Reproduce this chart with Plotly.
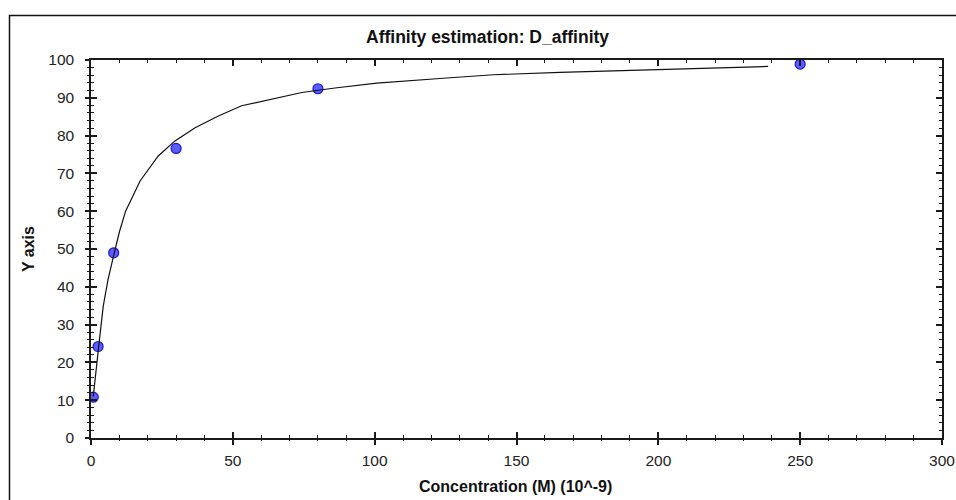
import plotly.graph_objects as go

# Measured data points
conc = [0.8, 2.5, 8, 30, 80, 250]
resp = [10.8, 24.2, 49.0, 76.6, 92.4, 98.9]

# Fitted curve
fit_x = [0.8, 1.8, 2.9, 4.3, 6.0, 8.0, 10.0, 12.2, 17.3, 23.7, 29.6, 36.7, 44.9,
         53.1, 63.7, 74.3, 86.0, 100.7, 123.0, 141.8, 165.3, 187.6, 210.0, 238.7]
fit_y = [11.0, 18.9, 25.5, 34.8, 41.9, 48.3, 54.5, 60.0, 68.0, 74.6, 78.6, 82.1, 85.2,
         87.9, 89.7, 91.4, 92.6, 93.9, 95.1, 96.1, 96.7, 97.2, 97.8, 98.3]

x_ticks = [0, 50, 100, 150, 200, 250, 300]
y_ticks = [0, 10, 20, 30, 40, 50, 60, 70, 80, 90, 100]

title = "Affinity estimation: D_affinity"
x_title = "Concentration (M) (10^-9)"
y_title = "Y axis"

FONT = "Liberation Sans, Arial, sans-serif"
AX = "#1a1a1a"
TICKFONT = dict(family=FONT, size=15.5, color="#222")

fig = go.Figure()
fig.add_trace(go.Scatter(x=fit_x, y=fit_y, mode="lines",
                         line=dict(color="#111111", width=1.2),
                         xaxis="x2", yaxis="y2", hoverinfo="skip", showlegend=False))
fig.add_trace(go.Scatter(x=conc, y=resp, mode="markers",
                         marker=dict(size=10, color="#5c5cff",
                                     line=dict(color="#1a1ad8", width=1.2)),
                         showlegend=False))

common = dict(showgrid=False, zeroline=False, automargin=False)
W, H = 956, 500
fig.update_layout(
    width=W, height=H,
    margin=dict(l=91, r=14, t=60, b=62),
    paper_bgcolor="white", plot_bgcolor="white",
    font=dict(family=FONT, size=13, color="#222"),
    xaxis=dict(range=[0, 300], tickvals=x_ticks, ticktext=[str(v) for v in x_ticks],
               ticks="inside", ticklen=6, tickwidth=1.5, tickcolor=AX,
               showline=True, linecolor=AX, linewidth=1.5, mirror="ticks",
               minor=dict(ticks="inside", ticklen=3, dtick=10, tickwidth=1, tickcolor=AX),
               ticklabelstandoff=8, tickfont=TICKFONT, **common),
    yaxis=dict(range=[0, 100], tickvals=y_ticks, ticktext=[str(v) for v in y_ticks],
               ticks="inside", ticklen=6, tickwidth=1.5, tickcolor=AX,
               showline=True, linecolor=AX, linewidth=1.5, mirror="ticks",
               minor=dict(ticks="inside", ticklen=3, dtick=2, tickwidth=1, tickcolor=AX),
               ticklabelstandoff=12, tickfont=TICKFONT, **common),
    xaxis2=dict(range=[0, 300], overlaying="x", anchor="y2", side="bottom",
                tickvals=x_ticks, showticklabels=False,
                ticks="outside", ticklen=6, tickwidth=1.5, tickcolor=AX,
                minor=dict(ticks="outside", ticklen=2, dtick=10, tickwidth=1, tickcolor=AX),
                showline=False, **common),
    yaxis2=dict(range=[0, 100], overlaying="y", anchor="x2", side="left",
                tickvals=y_ticks, showticklabels=False,
                ticks="outside", ticklen=5, tickwidth=1.5, tickcolor=AX,
                minor=dict(ticks="outside", ticklen=3, dtick=2, tickwidth=1, tickcolor=AX),
                showline=False, **common),
    annotations=[
        dict(text="<b>" + title + "</b>", xref="paper", yref="paper",
             x=(487-91)/851, y=(438-37)/378, xanchor="center", yanchor="middle",
             showarrow=False, font=dict(family=FONT, size=17.5, color="#111")),
        dict(text="<b>" + x_title + "</b>", xref="paper", yref="paper",
             x=(515-91)/851, y=(438-487)/378, xanchor="center", yanchor="middle",
             showarrow=False, font=dict(family=FONT, size=16, color="#111")),
        dict(text="<b>" + y_title + "</b>", xref="paper", yref="paper",
             x=(28-91)/851, y=(438-249)/378, xanchor="center", yanchor="middle",
             textangle=-90, showarrow=False,
             font=dict(family=FONT, size=16, color="#111")),
    ],
    shapes=[dict(type="rect", xref="paper", yref="paper",
                 x0=(9.5-91)/851, x1=(975-91)/851,
                 y0=(438-520)/378, y1=(438-15.5)/378,
                 line=dict(color="#111", width=1.5), fillcolor="rgba(0,0,0,0)",
                 layer="below")],
)

fig.write_html("out.html")
